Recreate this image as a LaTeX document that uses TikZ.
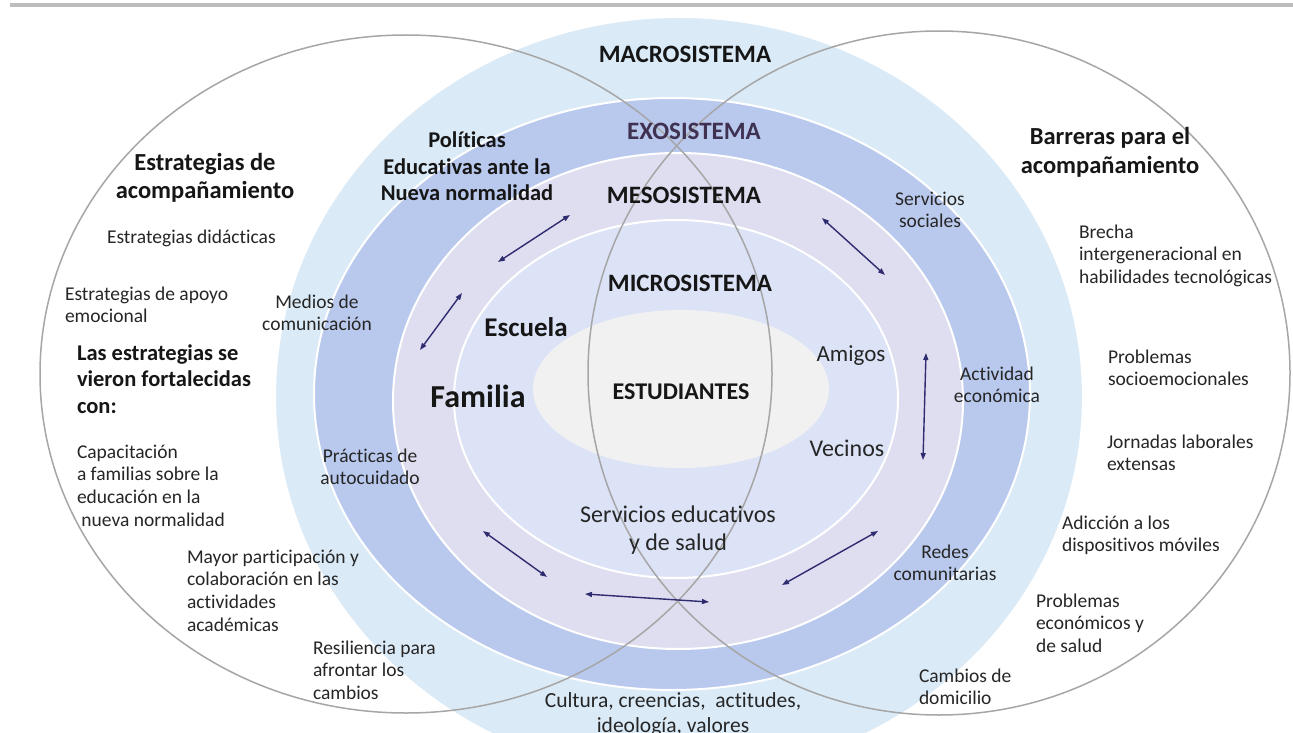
\documentclass[tikz,border=0pt]{standalone}
\usepackage{fontspec}
\setmainfont[Ligatures=NoCommon]{Carlito}
\usetikzlibrary{arrows.meta}
\definecolor{macroC}{HTML}{DAEAF7}
\definecolor{exoC}{HTML}{B9C9EE}
\definecolor{mesoC}{HTML}{DFDEF0}
\definecolor{microC}{HTML}{DCE3F6}
\definecolor{studC}{HTML}{F1F1F1}
\definecolor{vennC}{HTML}{A6A6A6}
\definecolor{arrC}{HTML}{2E2B6F}
\definecolor{txtC}{HTML}{262626}
\definecolor{boldC}{HTML}{161616}
\definecolor{exoT}{HTML}{3F3151}
\definecolor{barC}{HTML}{BDBDBD}
\newcommand\myl[1]{\begin{tabular}[t]{@{}l@{}}#1\end{tabular}}
\newcommand\myc[1]{\begin{tabular}[t]{@{}c@{}}#1\end{tabular}}
\newcommand\fsreg{\fontsize{19.5}{22.7}\selectfont}
\newcommand\fsmid{\fontsize{21.5}{25}\selectfont}
\newcommand\fsbb{\bfseries\fontsize{22.5}{26.5}\selectfont}
\newcommand\fshead{\bfseries\fontsize{24.5}{28.3}\selectfont}
\newcommand\fscaps{\bfseries\fontsize{25}{30}\selectfont}
\tikzset{
  ring/.style={draw=white, line width=2pt},
  venn/.style={draw=vennC, line width=1.5pt},
  biarrow/.style={draw=arrC, line width=1.4pt, {Triangle[length=7pt,width=5pt]}-{Triangle[length=7pt,width=5pt]}},
  txt/.style={inner sep=0pt, outer sep=0pt, text=txtC},
  regL/.style={txt, font=\fsreg, anchor=base west},
  regC/.style={txt, font=\fsreg, anchor=base},
  headC/.style={txt, text=boldC, font=\fshead, anchor=base},
  capsC/.style={txt, text=boldC, font=\fscaps, anchor=base},
}
\begin{document}
\begin{tikzpicture}[x=1pt,y=-1pt]
\useasboundingbox (0,0) rectangle (1293,733);
\begin{scope}
\clip (0,0) rectangle (1293,733);
\fill[white] (0,0) rectangle (1293,733);
\draw[draw=barC, line width=3.5pt] (10,5) -- (1293,5);
% rings
\filldraw[ring, fill=macroC] (679,397) ellipse [x radius=404pt, y radius=380pt];
\filldraw[ring, fill=exoC] (672,394) ellipse [x radius=358pt, y radius=296pt];
\filldraw[ring, fill=mesoC] (678,401) ellipse [x radius=285pt, y radius=248pt];
\filldraw[ring, fill=microC] (676,399) ellipse [x radius=222pt, y radius=179pt];
\fill[studC] (681,389) ellipse [x radius=148pt, y radius=79pt];
% venn outlines
\draw[venn] (406,374) ellipse [x radius=366pt, y radius=339pt];
\draw[venn] (939,373) ellipse [x radius=351pt, y radius=342pt];
\end{scope}
% arrows
\coordinate (a1s) at (498,262); \coordinate (a1e) at (570,215);
\coordinate (a2s) at (420,350); \coordinate (a2e) at (462,293);
\coordinate (a3s) at (822,218); \coordinate (a3e) at (885,275);
\coordinate (a4s) at (926,353); \coordinate (a4e) at (923,460);
\coordinate (a5s) at (483,531); \coordinate (a5e) at (547,577);
\coordinate (a6s) at (585,594); \coordinate (a6e) at (709,602);
\coordinate (a7s) at (878,531); \coordinate (a7e) at (782,585);
\foreach \i in {1,...,7} \draw[biarrow] (a\i s) -- (a\i e);
% system labels
\node[capsC] (macro) at (685,63) {MACROSISTEMA};
\node[capsC, text=exoT] (exo) at (694,140) {EXOSISTEMA};
\node[capsC] (meso) at (684,203) {MESOSISTEMA};
\node[capsC] (micro) at (690,291) {MICROSISTEMA};
\node[txt, text=boldC, font=\bfseries\fontsize{24}{28}\selectfont, anchor=base] (stud) at (681,399) {ESTUDIANTES};
\node[txt, text=boldC, font=\bfseries\fontsize{32}{36}\selectfont, anchor=base] (fam) at (478,407) {Familia};
\node[txt, text=boldC, font=\bfseries\fontsize{27}{30}\selectfont, anchor=base] (esc) at (526,336) {Escuela};
\node[txt, font=\fontsize{23}{27}\selectfont, anchor=base] (ami) at (851,361) {Amigos};
\node[txt, font=\fontsize{24}{28}\selectfont, anchor=base] (vec) at (847,456) {Vecinos};
\node[txt, font=\fontsize{24}{28}\selectfont, anchor=base] (serv) at (678,522) {\myc{Servicios educativos\\y de salud}};
\node[txt, font=\fsmid, anchor=base] (cult) at (673,707) {\myc{Cultura, creencias,\ \ actitudes,\\ideología, valores}};
\node[txt, text=boldC, font=\fsbb, anchor=base] (pol) at (467,148) {\myc{Políticas\\Educativas ante la\\Nueva normalidad}};
% left set
\node[headC] (estr) at (205,170) {\myc{Estrategias de\\acompañamiento}};
\node[regL] (did) at (107,243) {Estrategias didácticas};
\node[regL] (apo) at (65,300) {\myl{Estrategias de apoyo\\emocional}};
\node[txt, text=boldC, font=\fsbb, anchor=base west] (fort) at (77,360) {\myl{Las estrategias se\\vieron fortalecidas\\con:}};
\node[regL] (cap) at (77,458) {\myl{Capacitación\\a familias sobre la\\educación en la\\\ nueva normalidad}};
\node[regL] (may) at (187,563) {\myl{Mayor participación y\\colaboración en las\\actividades\\académicas}};
\node[regL] (res) at (313,654) {\myl{Resiliencia para\\afrontar los\\cambios}};
% ring labels
\node[regC] (med) at (317,308) {\myc{Medios de\\comunicación}};
\node[regC] (pra) at (370,462) {\myc{Prácticas de\\autocuidado}};
\node[regC] (soc) at (930,205) {\myc{Servicios\\sociales}};
\node[regC] (act) at (997,380) {\myc{Actividad\\económica}};
\node[regC] (red) at (945,558) {\myc{Redes\\comunitarias}};
% right set
\node[headC] (barr) at (1110,145) {\myc{Barreras para el\\acompañamiento}};
\node[regL] (bre) at (1079,238) {\myl{Brecha\\intergeneracional en\\habilidades tecnológicas}};
\node[regL] (pso) at (1108,363) {\myl{Problemas\\socioemocionales}};
\node[regL] (jor) at (1107,448) {\myl{Jornadas laborales\\extensas}};
\node[regL] (adi) at (1062,529) {\myl{Adicción a los\\dispositivos móviles}};
\node[regL] (pec) at (1036,607) {\myl{Problemas\\económicos y\\de salud}};
\node[regL] (cam) at (919,682) {\myl{Cambios de\\domicilio}};
\end{tikzpicture}
\end{document}
